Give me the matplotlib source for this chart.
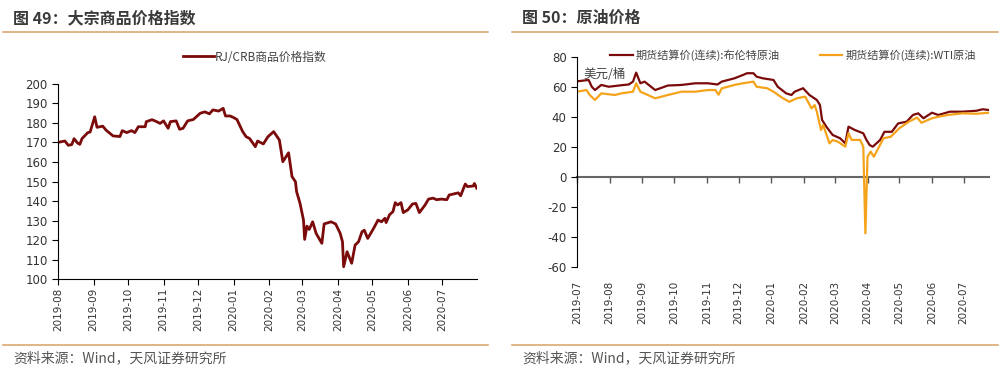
import matplotlib
matplotlib.use('Agg')
import matplotlib.pyplot as plt
import matplotlib.dates as mdates
import pandas as pd

plt.rcParams['font.family'] = ['Noto Sans CJK SC', 'DejaVu Sans']
plt.rcParams['axes.unicode_minus'] = False

# RJ/CRB 商品价格指数
crb_dates = ['2019-08-01', '2019-08-07', '2019-08-10', '2019-08-13', '2019-08-15', '2019-08-18',
             '2019-08-20', '2019-08-22', '2019-08-25', '2019-08-27', '2019-08-29', '2019-09-02',
             '2019-09-04', '2019-09-09', '2019-09-12', '2019-09-18', '2019-09-24', '2019-09-26',
             '2019-09-30', '2019-10-04', '2019-10-07', '2019-10-10', '2019-10-16', '2019-10-17',
             '2019-10-22', '2019-10-26', '2019-10-29', '2019-11-01', '2019-11-05', '2019-11-07',
             '2019-11-12', '2019-11-15', '2019-11-18', '2019-11-22', '2019-11-27', '2019-12-03',
             '2019-12-07', '2019-12-11', '2019-12-14', '2019-12-19', '2019-12-23', '2019-12-25',
             '2019-12-29', '2020-01-01', '2020-01-04', '2020-01-09', '2020-01-12', '2020-01-15',
             '2020-01-20', '2020-01-22', '2020-01-27', '2020-01-31', '2020-02-05', '2020-02-10',
             '2020-02-13', '2020-02-18', '2020-02-21', '2020-02-24', '2020-02-25', '2020-02-28',
             '2020-03-02', '2020-03-03', '2020-03-05', '2020-03-07', '2020-03-10', '2020-03-13',
             '2020-03-18', '2020-03-20', '2020-03-26', '2020-03-30', '2020-04-03', '2020-04-05',
             '2020-04-06', '2020-04-09', '2020-04-13', '2020-04-16', '2020-04-19', '2020-04-22',
             '2020-04-24', '2020-04-27', '2020-05-02', '2020-05-06', '2020-05-09', '2020-05-12',
             '2020-05-13', '2020-05-16', '2020-05-19', '2020-05-21', '2020-05-23', '2020-05-26',
             '2020-05-28', '2020-06-01', '2020-06-05', '2020-06-08', '2020-06-11', '2020-06-16',
             '2020-06-19', '2020-06-23', '2020-06-26', '2020-06-30', '2020-07-05', '2020-07-07',
             '2020-07-15', '2020-07-17', '2020-07-21', '2020-07-23', '2020-07-28', '2020-07-29',
             '2020-07-31']
crb_values = [170.0, 170.7, 168.5, 168.9, 171.9, 169.7,
              169.0, 172.0, 173.8, 175.0, 175.3, 183.1,
              177.7, 178.3, 176.2, 173.3, 173.0, 176.0,
              175.0, 176.0, 175.0, 178.0, 178.0, 180.6,
              181.6, 180.6, 179.7, 181.0, 177.2, 180.6,
              181.0, 176.7, 177.2, 181.0, 181.7, 184.9,
              185.6, 184.6, 186.6, 186.0, 187.4, 183.5,
              183.5, 182.7, 181.7, 175.5, 172.9, 172.0,
              167.8, 170.7, 169.2, 172.9, 175.5, 171.2,
              160.1, 164.7, 152.5, 149.9, 144.8, 138.8,
              130.3, 120.4, 127.2, 125.5, 129.4, 123.5,
              118.4, 128.3, 129.4, 128.3, 123.5, 119.2,
              106.4, 114.1, 108.2, 117.5, 119.2, 124.3,
              125.1, 120.9, 125.9, 130.3, 129.4, 131.2,
              129.0, 133.0, 134.6, 139.2, 138.0, 139.2,
              134.1, 135.5, 138.5, 138.8, 134.1, 138.0,
              141.0, 141.5, 140.7, 141.0, 140.7, 143.1,
              144.2, 142.7, 148.7, 147.4, 147.7, 149.0,
              146.6]

# 期货结算价(连续):布伦特原油
brent_dates = ['2019-07-01', '2019-07-12', '2019-07-15', '2019-07-18', '2019-07-24', '2019-07-31',
               '2019-08-12', '2019-08-19', '2019-08-23', '2019-08-26', '2019-08-30', '2019-09-03',
               '2019-09-13', '2019-09-25', '2019-10-08', '2019-10-21', '2019-11-02', '2019-11-11',
               '2019-11-15', '2019-11-27', '2019-12-05', '2019-12-09', '2019-12-15', '2019-12-18',
               '2019-12-24', '2020-01-03', '2020-01-07', '2020-01-15', '2020-01-20', '2020-01-23',
               '2020-01-31', '2020-02-06', '2020-02-13', '2020-02-16', '2020-02-18', '2020-02-22',
               '2020-02-28', '2020-03-06', '2020-03-11', '2020-03-14', '2020-03-20', '2020-03-28',
               '2020-03-31', '2020-04-03', '2020-04-06', '2020-04-13', '2020-04-17', '2020-04-24',
               '2020-04-30', '2020-05-08', '2020-05-14', '2020-05-19', '2020-05-24', '2020-06-01',
               '2020-06-07', '2020-06-18', '2020-06-30', '2020-07-13', '2020-07-19', '2020-07-25']
brent_values = [63.6, 64.5, 60.0, 57.8, 61.2, 60.0,
                61.0, 61.5, 63.4, 69.4, 62.3, 63.4,
                57.8, 60.8, 61.2, 62.3, 62.3, 61.5,
                63.4, 65.6, 67.8, 69.0, 69.0, 66.7,
                65.6, 64.5, 60.0, 55.6, 54.5, 56.7,
                59.0, 54.5, 51.2, 47.8, 37.9, 33.4,
                27.9, 25.7, 22.3, 33.4, 31.2, 29.0,
                24.6, 21.2, 20.1, 24.6, 30.0, 30.0,
                35.6, 36.7, 41.2, 42.3, 39.0, 42.7,
                41.2, 43.4, 43.4, 44.0, 45.0, 44.5]

# 期货结算价(连续):WTI原油
wti_dates = ['2019-07-01', '2019-07-10', '2019-07-13', '2019-07-18', '2019-07-24', '2019-08-06',
             '2019-08-12', '2019-08-23', '2019-08-26', '2019-08-30', '2019-09-13', '2019-09-25',
             '2019-10-08', '2019-10-21', '2019-11-02', '2019-11-09', '2019-11-12', '2019-11-15',
             '2019-11-27', '2019-12-05', '2019-12-15', '2019-12-18', '2019-12-28', '2020-01-03',
             '2020-01-12', '2020-01-18', '2020-01-25', '2020-02-02', '2020-02-08', '2020-02-11',
             '2020-02-13', '2020-02-17', '2020-02-19', '2020-02-25', '2020-02-28', '2020-03-04',
             '2020-03-11', '2020-03-14', '2020-03-17', '2020-03-25', '2020-03-28', '2020-03-30',
             '2020-04-01', '2020-04-04', '2020-04-07', '2020-04-12', '2020-04-16', '2020-04-23',
             '2020-05-01', '2020-05-10', '2020-05-18', '2020-05-22', '2020-06-01', '2020-06-07',
             '2020-06-16', '2020-06-30', '2020-07-13', '2020-07-25']
wti_values = [56.7, 57.8, 54.5, 51.2, 55.6, 54.5,
              55.6, 56.7, 62.3, 56.7, 52.3, 54.5,
              56.7, 56.7, 57.8, 57.8, 54.7, 58.9,
              61.2, 62.3, 63.4, 60.0, 59.0, 56.7,
              52.3, 50.0, 52.3, 53.4, 45.6, 47.8,
              43.4, 31.2, 34.5, 22.3, 24.5, 23.4,
              20.1, 29.0, 24.6, 24.6, 20.1, -37.6,
              13.4, 16.8, 13.4, 20.1, 25.7, 26.7,
              32.3, 36.7, 39.5, 36.0, 39.0, 40.0,
              41.2, 42.3, 42.0, 42.7]

dark_red = '#7B0A0A'
orange = '#F5A31A'
rule_color = '#D9A066'
text_color = '#333333'

fig = plt.figure(figsize=(10, 3.73), dpi=100)

# 标题、分隔线、来源
for x0, x1, title in [(0.003, 0.488, '图 49：大宗商品价格指数'), (0.512, 0.998, '图 50：原油价格')]:
    fig.text(x0 + 0.010, 0.952, title, fontsize=11.5, fontweight='bold', color='#3a3a3a', va='center')
    fig.add_artist(plt.Line2D([x0, x1], [0.914, 0.914], color=rule_color, lw=1.1))
    fig.add_artist(plt.Line2D([x0, x1], [0.075, 0.075], color=rule_color, lw=1.1))
    fig.text(x0 + 0.010, 0.040, '资料来源：Wind，天风证券研究所', fontsize=10, color='#555555', va='center')

# 左图
ax1 = fig.add_axes([0.058, 0.2512, 0.4187, 0.5244])
ax1.plot(pd.to_datetime(crb_dates), crb_values, color=dark_red, lw=2.0, label='RJ/CRB商品价格指数')
ax1.set_ylim(100, 200)
ax1.set_yticks(range(100, 201, 10))
ax1.set_xlim(pd.Timestamp('2019-08-01'), pd.Timestamp('2020-07-31'))
ax1.set_xticks(pd.date_range('2019-08-01', '2020-07-01', freq='MS'))
ax1.xaxis.set_major_formatter(mdates.DateFormatter('%Y-%m'))
ax1.spines[['top', 'right']].set_visible(False)
ax1.tick_params(axis='x', rotation=90, length=4, labelsize=7.5, labelcolor=text_color, pad=2)
ax1.tick_params(axis='y', length=4, labelsize=8.5, labelcolor=text_color)
for lab in ax1.get_xticklabels() + ax1.get_yticklabels():
    lab.set_family('DejaVu Sans')
ax1.legend(loc='center', bbox_to_anchor=(0.47, 1.136), frameon=False, fontsize=8.5,
           handlelength=2.6, handletextpad=0.1, labelcolor='#444444')

# 右图
ax2 = fig.add_axes([0.577, 0.2842, 0.412, 0.5638])
ax2.plot(pd.to_datetime(brent_dates), brent_values, color=dark_red, lw=1.6, label='期货结算价(连续):布伦特原油')
ax2.plot(pd.to_datetime(wti_dates), wti_values, color=orange, lw=1.6, label='期货结算价(连续):WTI原油')
ax2.set_ylim(-60, 80)
ax2.set_yticks(range(-60, 81, 20))
ax2.set_xlim(pd.Timestamp('2019-07-01'), pd.Timestamp('2020-07-25'))
month_ticks = pd.date_range('2019-07-01', '2020-07-01', freq='MS')
ax2.set_xticks(month_ticks)
ax2.xaxis.set_major_formatter(mdates.DateFormatter('%Y-%m'))
ax2.spines[['top', 'right', 'bottom']].set_visible(False)
ax2.tick_params(axis='x', rotation=90, length=0, labelsize=7.5, labelcolor=text_color, pad=10)
ax2.tick_params(axis='y', length=4, labelsize=8.5, labelcolor=text_color)
for lab in ax2.get_xticklabels() + ax2.get_yticklabels():
    lab.set_family('DejaVu Sans')
# 零轴及刻度
zero_axis = ax2.secondary_xaxis(60 / 140)
zero_axis.set_xticks(month_ticks)
zero_axis.tick_params(length=4, width=1, color='#555555', labelbottom=False, labeltop=False)
zero_axis.spines['bottom'].set_color('#666666')
zero_axis.spines['bottom'].set_linewidth(1.5)
ax2.text(0.015, 0.90, '美元/桶', transform=ax2.transAxes, fontsize=9, color='#444444')
ax2.legend(loc='center', bbox_to_anchor=(0.525, 1.005), ncol=2, frameon=False, fontsize=8,
           handlelength=2.0, handletextpad=0.3, columnspacing=3.6, labelcolor='#444444')

fig.savefig('out.png', dpi=100)
